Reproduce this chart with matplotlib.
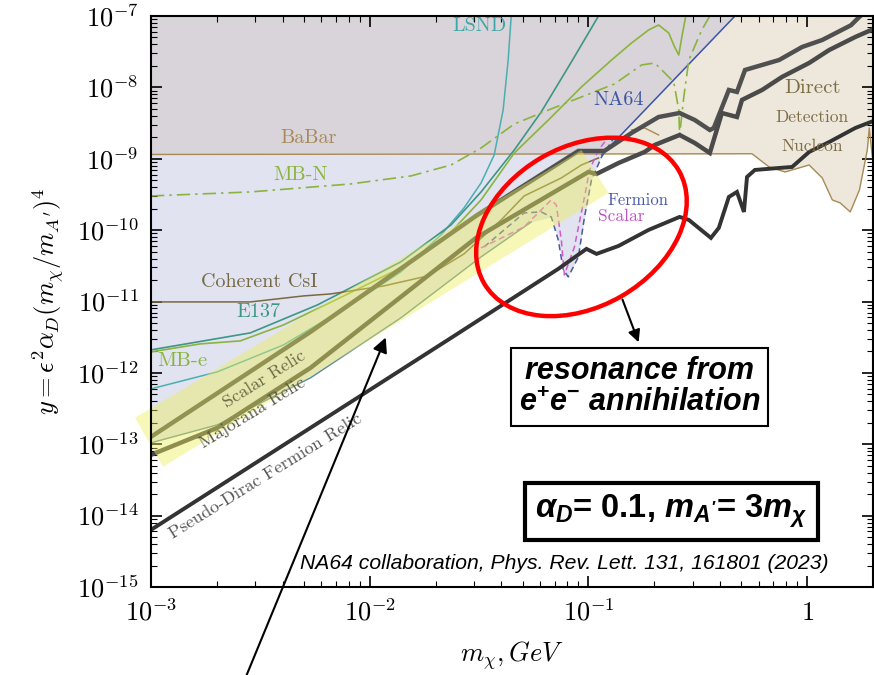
import numpy as np
import matplotlib
matplotlib.use("Agg")
import matplotlib.pyplot as plt
import matplotlib.transforms as mtransforms
from matplotlib.patches import Ellipse, Polygon
from matplotlib.ticker import FuncFormatter, LogLocator

plt.rcParams['mathtext.fontset'] = 'cm'
# the 'custom' math set is only used by the two boxed notes
plt.rcParams['mathtext.rm'] = 'Liberation Sans:bold'
plt.rcParams['mathtext.it'] = 'Liberation Sans:italic:bold'
plt.rcParams['mathtext.bf'] = 'Liberation Sans:bold'

# ---- data (log10 of m_chi [GeV] and of y) ----
# direct detection (nucleon) edge, flat BaBar level on the left
dd_lm = [-3.0, -0.252, -0.174, -0.101, 0.009, 0.069, 0.115, 0.151, 0.197, 0.239, 0.275, 0.284, 0.298, 0.32]
dd_ly = [-8.94, -8.93, -9.115, -9.185, -9.087, -9.269, -9.577, -9.619, -9.745, -9.437, -8.877, -8.569, -8.975, -8.975]
babar_bump_lm = [-0.803, -0.743, -0.679]
babar_bump_ly = [-8.597, -8.569, -8.667]

# lower edge of the accelerator excluded region
env_lm = [-3.0, -2.697, -2.271, -1.858, -1.491, -1.261, -1.170, -1.138, -1.115, -1.096, -1.046, -1.018, -0.986, -0.939, -0.330]
env_ly = [-12.98, -12.728, -12.07, -11.23, -10.375, -9.885, -9.815, -10.137, -10.557, -10.655, -10.375, -9.815, -9.297, -8.947, -7.0]

na64_lm = [-0.939, -0.330]
na64_ly = [-8.947, -7.0]

fermion_lm = [-1.477, -1.294, -1.216, -1.170, -1.138, -1.115, -1.092, -1.046, -1.018, -0.986, -0.940, -0.881]
fermion_ly = [-10.235, -9.759, -9.745, -9.815, -10.137, -10.557, -10.655, -10.375, -9.815, -9.297, -8.975, -8.695]
scalar_lm = [-1.491, -1.294, -1.170, -1.147, -1.124, -1.110, -1.064, -1.018, -0.995, -0.954, -0.908]
scalar_ly = [-10.249, -9.955, -9.577, -9.647, -10.137, -10.627, -10.235, -9.535, -9.157, -8.877, -8.695]

e137_lm = [-3.0, -2.546, -2.239, -1.858, -1.628, -1.491, -1.339, -1.216, -1.078, -0.954]
e137_ly = [-11.678, -11.44, -11.048, -10.445, -9.927, -9.465, -8.877, -8.345, -7.644, -7.0]

lsnd_lm = [-3.0, -2.697, -2.394, -2.087, -1.858, -1.674, -1.569, -1.491, -1.431, -1.390, -1.367, -1.353]
lsnd_ly = [-12.224, -11.986, -11.608, -11.048, -10.585, -10.067, -9.689, -9.339, -8.947, -8.317, -7.616, -7.0]

mbe_lm = [-3.0, -2.775, -2.592, -2.394, -2.165, -1.858, -1.628, -1.491, -1.339, -1.183, -1.032, -0.894,
          -0.803, -0.725, -0.679, -0.633, -0.606, -0.587, -0.573, -0.555]
mbe_ly = [-11.706, -11.594, -11.552, -11.328, -10.992, -10.529, -10.025, -9.577, -8.919, -8.457, -7.994, -7.616,
          -7.378, -7.196, -7.126, -7.238, -7.434, -7.546, -7.294, -7.0]

mbn_lm = [-3.0, -2.546, -2.087, -1.812, -1.628, -1.491, -1.339, -1.183, -1.032, -0.881, -0.757, -0.697,
          -0.651, -0.610, -0.587, -0.583, -0.564, -0.541, -0.482, -0.445]
mbn_ly = [-9.521, -9.465, -9.353, -9.241, -9.087, -8.849, -8.513, -8.317, -8.134, -7.952, -7.686, -7.658,
          -7.798, -7.924, -8.317, -8.667, -8.134, -7.616, -7.196, -7.0]

csi_lm = [-3.0, -2.546, -2.303, -2.179, -1.936, -1.734, -1.569, -1.399, -1.294, -1.124, -1.032, -0.954]
csi_ly = [-11.006, -11.006, -10.922, -10.894, -10.782, -10.641, -10.333, -9.857, -9.521, -9.269, -9.087, -8.989]

# relic targets
scal_relic_lm = [-3.0, -2.271, -1.514, -1.046, -0.927, -0.803, -0.679, -0.583, -0.514, -0.445, -0.427, -0.358,
                 -0.321, -0.284, -0.206, -0.128, -0.023, 0.069, 0.20, 0.243, 0.28]
scal_relic_ly = [-12.896, -11.426, -9.801, -8.891, -8.891, -8.639, -8.415, -8.359, -8.457, -8.597, -8.569, -8.036,
                 -8.064, -7.756, -7.686, -7.616, -7.434, -7.336, -7.13, -7.0, -6.92]

maj_relic_lm = [-3.0, -2.697, -2.271, -1.514, -1.0, -0.963, -0.862, -0.743, -0.697, -0.583, -0.514, -0.445,
                -0.390, -0.321, -0.298, -0.206, -0.115, 0.009, 0.101, 0.220, 0.32]
maj_relic_ly = [-13.148, -12.77, -11.93, -10.109, -9.185, -9.213, -9.059, -8.905, -8.807, -8.667, -8.779, -8.919,
                -8.359, -8.415, -8.176, -8.036, -7.854, -7.658, -7.476, -7.294, -7.16]

pd_relic_lm = [-3.0, -1.628, -1.138, -1.009, -0.963, -0.862, -0.725, -0.583, -0.541, -0.440, -0.404, -0.358,
               -0.321, -0.289, -0.275, -0.239, -0.128, -0.069, 0.009, 0.101, 0.220, 0.32]
pd_relic_ly = [-14.199, -11.51, -10.543, -10.263, -10.333, -10.221, -9.997, -9.815, -9.857, -10.109, -9.969, -9.535,
               -9.465, -9.745, -9.255, -9.157, -9.129, -9.115, -8.905, -8.765, -8.569, -8.45]

# highlighted band around the relic lines (corners)
band_lm = [-3.073, -1.032, -0.908, -2.945]
band_ly = [-12.63, -8.877, -9.479, -13.317]

x_ticks = [1e-3, 1e-2, 1e-1, 1]
y_ticks = [1e-15, 1e-14, 1e-13, 1e-12, 1e-11, 1e-10, 1e-9, 1e-8, 1e-7]


def p10(a):
    return 10 ** np.asarray(a, dtype=float)


fig = plt.figure(figsize=(8.74, 6.75), dpi=100)
ax = fig.add_axes([151 / 874, 88 / 675, 722 / 874, 571 / 675])
ax.set_xscale('log')
ax.set_yscale('log')
ax.set_xlim(1e-3, 2.0)
ax.set_ylim(1e-15, 1e-7)

top = 1e-7
# direct detection region (beige)
dd = ax.fill_between(p10(dd_lm), p10(dd_ly), top, color='#EEE8DC', lw=0, zorder=0)
# accelerator region (lavender) and its overlap with direct detection
ax.fill_between(p10(env_lm), p10(env_ly), top, color='#E1E3F1', lw=0, zorder=0.5)
ov = ax.fill_between(p10(env_lm), p10(env_ly), top, color='#D9D4D9', lw=0, zorder=0.6)
ov.set_clip_path(dd.get_paths()[0], ax.transData)

ax.plot(p10(dd_lm), p10(dd_ly), color='#A88A55', lw=1.0, zorder=2)
ax.plot(p10(babar_bump_lm), p10(babar_bump_ly), color='#A88A55', lw=1.0, zorder=2)
ax.plot(p10(na64_lm), p10(na64_ly), color='#3C55A5', lw=1.1, zorder=2)
ax.plot(p10(lsnd_lm), p10(lsnd_ly), color='#4AAFB0', lw=1.1, zorder=2)
ax.plot(p10(e137_lm), p10(e137_ly), color='#3E9686', lw=1.2, zorder=2)
ax.plot(p10(mbe_lm), p10(mbe_ly), color='#8AB43E', lw=1.2, zorder=2)
ax.plot(p10(mbn_lm), p10(mbn_ly), color='#8AB43E', lw=1.2, ls=(0, (8, 3, 1.5, 3)), zorder=2)
ax.plot(p10(csi_lm), p10(csi_ly), color='#7A6A40', lw=1.1, zorder=2)
ax.plot(p10(env_lm[:6]), p10(env_ly[:6]), color='#5E8C94', lw=1.0, zorder=2)
ax.plot(p10(fermion_lm), p10(fermion_ly), color='#4A5AA0', lw=1.1, ls=(0, (4, 2.5)), zorder=2.2)
ax.plot(p10(scalar_lm), p10(scalar_ly), color='#D05CC8', lw=1.1, ls=(0, (4, 2.5)), zorder=2.3)

ax.plot(p10(scal_relic_lm), p10(scal_relic_ly), color='#505050', lw=3.2, zorder=3, solid_joinstyle='miter')
ax.plot(p10(maj_relic_lm), p10(maj_relic_ly), color='#4A4A4A', lw=3.2, zorder=3, solid_joinstyle='miter')
ax.plot(p10(pd_relic_lm), p10(pd_relic_ly), color='#333333', lw=2.8, zorder=3, solid_joinstyle='miter')

band = Polygon(np.column_stack([p10(band_lm), p10(band_ly)]), closed=True,
               facecolor='#EEEE55', edgecolor='none', alpha=0.42, zorder=4, clip_on=False)
ax.add_patch(band)

# curve labels
lab = dict(family='cmr10', ha='center', va='center', zorder=6)
ax.text(10**-1.500, 10**-7.14, 'LSND', color='#3FA7A8', fontsize=14.5, **lab)
ax.text(10**-0.862, 10**-8.176, 'NA64', color='#3C55A5', fontsize=14.5, **lab)
ax.text(10**-2.280, 10**-8.709, 'BaBar', color='#A88A5A', fontsize=14.5, **lab)
ax.text(10**-2.317, 10**-9.227, 'MB-N', color='#8AB43E', fontsize=14.5, **lab)
ax.text(10**-2.505, 10**-10.725, 'Coherent CsI', color='#756A45', fontsize=14.5, **lab)
ax.text(10**-2.509, 10**-11.146, 'E137', color='#3E9686', fontsize=14.5, **lab)
ax.text(10**-2.858, 10**-11.832, 'MB-e', color='#8AB43E', fontsize=15, **lab)
ax.text(10**-2.482, 10**-12.084, 'Scalar Relic', color='#6A6A45', fontsize=13, rotation=32, **lab)
ax.text(10**-2.537, 10**-12.560, 'Majorana Relic', color='#5A5A45', fontsize=13, rotation=31.5, **lab)
ax.text(10**-2.477, 10**-13.443, 'Pseudo-Dirac Fermion Relic', color='#555555', fontsize=13, rotation=31.8, **lab)
ax.text(10**-0.775, 10**-9.577, 'Fermion', color='#4A5AA8', fontsize=12, **lab)
ax.text(10**-0.849, 10**-9.801, 'Scalar', color='#C050C8', fontsize=12.5, **lab)
ax.text(10**0.023, 10**-8.008, 'Direct', color='#7D6D45', fontsize=15, **lab)
ax.text(10**0.023, 10**-8.415, 'Detection', color='#7D6D45', fontsize=12.5, **lab)
ax.text(10**0.023, 10**-8.821, 'Nucleon', color='#7D6D45', fontsize=12.5, **lab)

# red ellipse around the resonance
etr = fig.dpi_scale_trans + mtransforms.ScaledTranslation(10**-1.032, 10**-9.955, ax.transData)
ax.add_patch(Ellipse((0, 0), 2.25, 1.6, angle=30, fill=False, ec='#FF0000', lw=3.2,
                     transform=etr, clip_on=False, zorder=8))

# arrows
ax.annotate('', xy=(10**-1.922, 10**-11.468), xytext=(10**-2.569, 10**-16.28),
            arrowprops=dict(arrowstyle='-|>', color='black', lw=1.5, mutation_scale=22),
            annotation_clip=False, zorder=9)
ax.annotate('', xy=(10**-0.766, 10**-11.608), xytext=(10**-0.849, 10**-10.936),
            arrowprops=dict(arrowstyle='-|>', color='black', lw=1.5, mutation_scale=18),
            annotation_clip=False, zorder=9)

# boxed notes
ax.text(0.677, 0.350, 'resonance from\ne$^{+}$e$^{-}$ annihilation', transform=ax.transAxes,
        ha='center', va='center', fontsize=22, family='Liberation Sans', fontweight='bold',
        fontstyle='italic', math_fontfamily='custom', linespacing=1.1, zorder=10,
        bbox=dict(boxstyle='square,pad=0.25', fc='white', ec='black', lw=1.5))
ax.text(0.721, 0.133, r'$\alpha_D$= 0.1, $m_{A^\prime}$= 3$m_\chi$', transform=ax.transAxes,
        ha='center', va='center', fontsize=23.5, family='Liberation Sans', fontweight='bold',
        math_fontfamily='custom', zorder=10,
        bbox=dict(boxstyle='square,pad=0.3', fc='white', ec='black', lw=3))
ax.text(0.573, 0.042, 'NA64 collaboration, Phys. Rev. Lett. 131, 161801 (2023)', transform=ax.transAxes,
        ha='center', va='center', fontsize=15.2, family='Liberation Sans', fontstyle='italic', zorder=10)

# axes cosmetics
ax.set_xticks(x_ticks)
ax.set_yticks(y_ticks)
ax.xaxis.set_minor_locator(LogLocator(base=10, subs=np.arange(2, 10)))
ax.yaxis.set_minor_locator(LogLocator(base=10, subs=np.arange(2, 10), numticks=20))


def fmt(v, pos):
    e = int(round(np.log10(v)))
    return r'$1$' if e == 0 else r'$10^{%d}$' % e


ax.xaxis.set_major_formatter(FuncFormatter(fmt))
ax.yaxis.set_major_formatter(FuncFormatter(fmt))
ax.tick_params(which='both', direction='in', top=True, right=True)
ax.tick_params(which='major', length=8, width=1.2, labelsize=19, pad=9)
ax.tick_params(which='minor', length=4, width=0.8)
for s in ax.spines.values():
    s.set_linewidth(1.5)
    s.set_zorder(11)

ax.set_xlabel(r'$m_\chi, GeV$', fontsize=19, labelpad=9)
ax.set_ylabel(r'$y = \epsilon^2\alpha_D(m_\chi/m_{A^\prime})^4$', fontsize=19, labelpad=8)

fig.savefig('out.png', dpi=100)
